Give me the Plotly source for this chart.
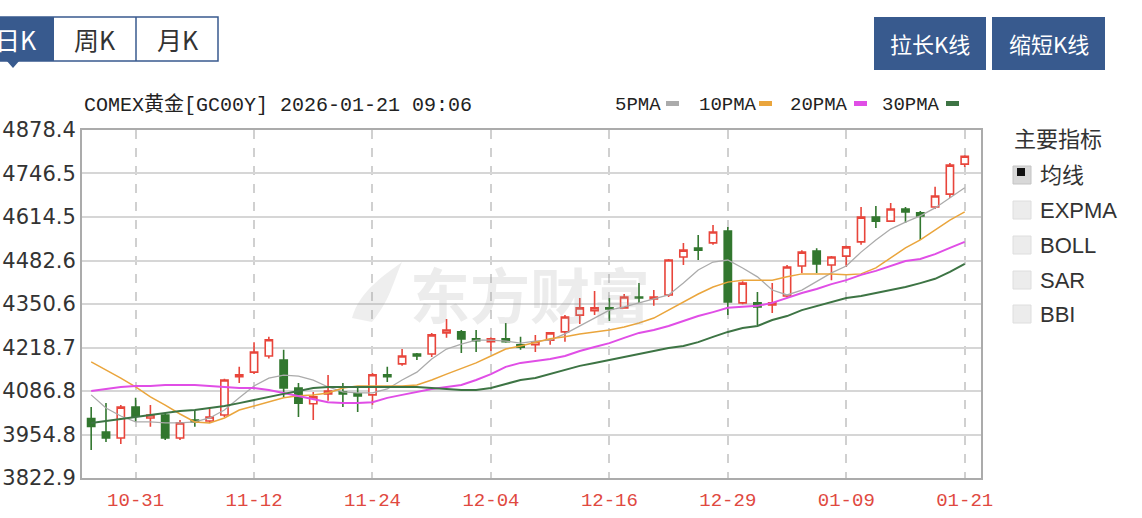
import plotly.graph_objects as go

# ---------------- data ----------------
dates = ["10-28", "10-29", "10-30", "10-31",
         "11-03", "11-04", "11-05", "11-06", "11-07", "11-10", "11-11", "11-12",
         "11-13", "11-14", "11-17", "11-18", "11-19", "11-20", "11-21", "11-24",
         "11-25", "11-26", "11-27", "11-28", "12-01", "12-02", "12-03", "12-04",
         "12-05", "12-08", "12-09", "12-10", "12-11", "12-12", "12-15", "12-16",
         "12-17", "12-18", "12-19", "12-22", "12-23", "12-24", "12-26", "12-29",
         "12-30", "12-31", "01-02", "01-05", "01-06", "01-07", "01-08", "01-09",
         "01-12", "01-13", "01-14", "01-15", "01-16", "01-19", "01-20", "01-21"]

opens = [4003, 3962, 3944, 4038, 4005, 4014, 3944, 3999, 3996, 4014,
         4130, 4144, 4193, 4181, 4096, 4048, 4078, 4084, 4078, 4075,
         4136, 4169, 4199, 4199, 4263, 4266, 4245, 4236, 4245, 4227,
         4227, 4241, 4266, 4317, 4330, 4339, 4339, 4372, 4366, 4378,
         4493, 4520, 4536, 4572, 4354, 4354, 4348, 4375, 4466, 4511,
         4469, 4496, 4539, 4614, 4602, 4639, 4627, 4645, 4684, 4775]
highs = [4038, 4050, 4044, 4066, 4044, 4020, 3999, 4029, 4038, 4124,
         4160, 4235, 4251, 4212, 4111, 4084, 4135, 4111, 4099, 4141,
         4160, 4214, 4202, 4263, 4305, 4272, 4272, 4250, 4293, 4251,
         4257, 4266, 4317, 4369, 4390, 4369, 4381, 4414, 4393, 4487,
         4536, 4560, 4590, 4584, 4420, 4387, 4414, 4469, 4514, 4520,
         4496, 4527, 4645, 4648, 4657, 4645, 4633, 4706, 4778, 4802]
lows = [3908, 3932, 3926, 3993, 3978, 3938, 3938, 3978, 3990, 4008,
        4111, 4138, 4185, 4066, 4008, 3999, 4057, 4038, 4023, 4045,
        4114, 4163, 4181, 4190, 4248, 4202, 4205, 4208, 4233, 4212,
        4205, 4227, 4236, 4290, 4317, 4299, 4336, 4354, 4345, 4372,
        4469, 4484, 4530, 4317, 4350, 4287, 4323, 4372, 4445, 4445,
        4423, 4463, 4530, 4581, 4599, 4596, 4545, 4639, 4672, 4766]
closes = [3979, 3944, 4038, 4010, 4014, 3944, 3990, 3993, 4008, 4120,
          4136, 4205, 4242, 4096, 4050, 4069, 4087, 4078, 4072, 4136,
          4130, 4193, 4193, 4257, 4272, 4245, 4239, 4245, 4236, 4220,
          4236, 4263, 4311, 4339, 4339, 4336, 4372, 4369, 4372, 4484,
          4514, 4514, 4569, 4357, 4414, 4342, 4354, 4463, 4508, 4472,
          4493, 4524, 4614, 4602, 4639, 4630, 4618, 4678, 4772, 4799]

ma5 = [4075, 4035, 4011, 3993, 3993, 3990, 3990, 3993, 4005, 4029,
       4066, 4102, 4126, 4135, 4132, 4120, 4099, 4084, 4081, 4081,
       4093, 4120, 4144, 4184, 4214, 4229, 4241, 4241, 4238, 4232,
       4238, 4241, 4260, 4284, 4308, 4332, 4342, 4354, 4366, 4378,
       4414, 4454, 4478, 4484, 4460, 4433, 4393, 4378, 4393, 4420,
       4445, 4466, 4508, 4545, 4578, 4599, 4618, 4642, 4672, 4703]
ma10 = [4175, 4151, 4126, 4099, 4069, 4044, 4017, 3993, 3990, 4005,
        4029, 4041, 4053, 4066, 4072, 4075, 4081, 4096, 4102, 4102,
        4102, 4102, 4105, 4120, 4138, 4154, 4172, 4193, 4214, 4223,
        4235, 4245, 4251, 4260, 4266, 4272, 4281, 4293, 4308, 4332,
        4357, 4381, 4402, 4417, 4423, 4423, 4423, 4433, 4442, 4442,
        4442, 4439, 4442, 4460, 4490, 4521, 4545, 4575, 4605, 4630]
ma20 = [4087, 4093, 4099, 4102, 4102, 4105, 4105, 4105, 4102, 4099,
        4096, 4096, 4090, 4081, 4072, 4063, 4053, 4050, 4050, 4053,
        4066, 4075, 4084, 4093, 4099, 4105, 4120, 4138, 4160, 4172,
        4178, 4184, 4193, 4208, 4220, 4232, 4248, 4263, 4272, 4284,
        4299, 4314, 4326, 4339, 4342, 4345, 4354, 4369, 4384, 4396,
        4411, 4423, 4439, 4451, 4466, 4481, 4487, 4502, 4521, 4539]
ma30 = [3990, 3996, 4002, 4008, 4014, 4020, 4026, 4029, 4035, 4041,
        4050, 4060, 4069, 4078, 4087, 4096, 4099, 4099, 4099, 4099,
        4099, 4099, 4099, 4096, 4093, 4090, 4090, 4096, 4108, 4120,
        4126, 4138, 4151, 4163, 4172, 4181, 4190, 4199, 4208, 4217,
        4223, 4235, 4251, 4266, 4278, 4284, 4302, 4314, 4332, 4345,
        4357, 4369, 4375, 4384, 4393, 4402, 4414, 4427, 4448, 4472]

ytick_vals = [3822.9, 3954.8, 4086.8, 4218.7, 4350.6, 4482.6, 4614.5, 4746.5, 4878.4]
xtick_labels = ["10-31", "11-12", "11-24", "12-04", "12-16", "12-29", "01-09", "01-21"]

ma_names = ["5PMA", "10PMA", "20PMA", "30PMA"]
ma_colors = ["#ababab", "#eaa53c", "#e04ee6", "#3d7444"]
ma_widths = [1.3, 1.5, 2.0, 2.0]

# ---------------- geometry helpers ----------------
W, H = 1142, 518
L, R, T, B = 82, 981, 130, 478


def px(x):
    return (x - L) / (R - L)


def py(y):
    return (B - y) / (B - T)


RED = "#e8453b"
GREEN = "#32772f"
BLUE = "#385a8e"

fig = go.Figure()

for name, vals, col, w in zip(ma_names, [ma5, ma10, ma20, ma30], ma_colors, ma_widths):
    fig.add_trace(go.Scatter(x=dates, y=vals, mode="lines", name=name,
                             line=dict(color=col, width=w), hoverinfo="skip"))

fig.add_trace(go.Candlestick(
    x=dates, open=opens, high=highs, low=lows, close=closes, name="K",
    increasing=dict(line=dict(color=RED, width=1.6), fillcolor="white"),
    decreasing=dict(line=dict(color=GREEN, width=1.6), fillcolor=GREEN),
    whiskerwidth=0,
))

shapes = []
annotations = []

# title
annotations.append(dict(x=px(82), y=py(105), xref="paper", yref="paper",
                        text="COMEX黄金[GC00Y] 2026-01-21 09:06", showarrow=False,
                        xanchor="left", yanchor="middle",
                        font=dict(family="Liberation Mono, Noto Sans CJK SC", size=20, color="#222")))

# legend-like labels
leg_text_x = [613, 697, 788, 880]
leg_sw_x = [666, 759, 854, 946]
for name, col, tx, sx in zip(ma_names, ma_colors, leg_text_x, leg_sw_x):
    annotations.append(dict(x=px(tx), y=py(105), xref="paper", yref="paper", text=name,
                            showarrow=False, xanchor="left", yanchor="middle",
                            font=dict(family="Liberation Mono", size=19, color="#222")))
    shapes.append(dict(type="rect", xref="paper", yref="paper",
                       x0=px(sx), x1=px(sx + 13), y0=py(106), y1=py(101),
                       fillcolor=col, line=dict(width=0)))

# watermark (logo + text)
shapes.append(dict(type="path", xref="paper", yref="paper",
                   path=(f"M {px(352)} {py(318)} C {px(360)} {py(290)} {px(385)} {py(275)} {px(402)} {py(262)} "
                         f"C {px(392)} {py(285)} {px(390)} {py(300)} {px(372)} {py(322)} Z"),
                   fillcolor="rgba(160,160,160,0.18)", line=dict(width=0)))
annotations.append(dict(x=px(530), y=py(292), xref="paper", yref="paper",
                        text="<b>东方财富</b>", showarrow=False,
                        font=dict(family="Noto Sans CJK SC", size=60, color="rgba(160,160,160,0.2)")))

# top-left tabs
shapes.append(dict(type="rect", xref="paper", yref="paper", x0=px(-2), x1=px(218),
                   y0=py(61), y1=py(17), fillcolor="white", line=dict(color=BLUE, width=1.5)))
shapes.append(dict(type="rect", xref="paper", yref="paper", x0=px(-2), x1=px(54),
                   y0=py(61), y1=py(17), fillcolor=BLUE, line=dict(width=0)))
shapes.append(dict(type="line", xref="paper", yref="paper", x0=px(136), x1=px(136),
                   y0=py(61), y1=py(17), line=dict(color=BLUE, width=1.5)))
shapes.append(dict(type="path", xref="paper", yref="paper",
                   path=f"M {px(6)} {py(60)} L {px(20)} {py(60)} L {px(13)} {py(68)} Z",
                   fillcolor=BLUE, line=dict(width=0)))
for txt, cx, col in [("日K", 16, "white"), ("周K", 95, "#333"), ("月K", 178, "#333")]:
    annotations.append(dict(x=px(cx), y=py(39), xref="paper", yref="paper", text=txt,
                            showarrow=False, xanchor="center", yanchor="middle",
                            font=dict(family="Noto Sans CJK SC", size=25, color=col)))

# top-right buttons
for txt, x0, x1 in [("拉长K线", 874, 986), ("缩短K线", 992, 1105)]:
    shapes.append(dict(type="rect", xref="paper", yref="paper", x0=px(x0), x1=px(x1),
                       y0=py(70), y1=py(17), fillcolor=BLUE, line=dict(width=0)))
    annotations.append(dict(x=px((x0 + x1) / 2), y=py(43), xref="paper", yref="paper", text=txt,
                            showarrow=False, xanchor="center", yanchor="middle",
                            font=dict(family="Noto Sans CJK SC", size=22, color="white")))

# right indicator panel
annotations.append(dict(x=px(1012), y=py(137), xref="paper", yref="paper", text="主要指标",
                        showarrow=False, xanchor="left", yanchor="middle",
                        font=dict(family="Noto Sans CJK SC", size=22, color="#333")))
items = ["均线", "EXPMA", "BOLL", "SAR", "BBI"]
item_y = [175, 210, 245, 280, 314]
for i, (txt, yc) in enumerate(zip(items, item_y)):
    shapes.append(dict(type="rect", xref="paper", yref="paper", x0=px(1013), x1=px(1031),
                       y0=py(yc + 9), y1=py(yc - 9),
                       fillcolor="#d8d8d8" if i == 0 else "#ececec",
                       line=dict(color="#c4c4c4" if i == 0 else "#dedede", width=1)))
    if i == 0:
        shapes.append(dict(type="rect", xref="paper", yref="paper", x0=px(1017), x1=px(1025),
                           y0=py(yc + 1), y1=py(yc - 7), fillcolor="#111", line=dict(width=0)))
    annotations.append(dict(x=px(1038), y=py(yc), xref="paper", yref="paper", text=txt,
                            showarrow=False, xanchor="left", yanchor="middle",
                            font=dict(family="Liberation Sans, Noto Sans CJK SC", size=22, color="#333")))

fig.update_layout(
    width=W, height=H, autosize=False,
    margin=dict(l=L, r=W - R, t=T, b=H - B, pad=0, autoexpand=False),
    paper_bgcolor="white", plot_bgcolor="white",
    showlegend=False,
    shapes=shapes, annotations=annotations,
    xaxis=dict(type="category", range=[-0.62, 60.1], automargin=False,
               tickvals=xtick_labels, ticktext=xtick_labels,
               showgrid=True, gridcolor="#d0d0d0", griddash="dash", gridwidth=1.5,
               showline=True, mirror=True, linecolor="#ababab", linewidth=2,
               ticks="", zeroline=False, rangeslider=dict(visible=False),
               ticklabelstandoff=3,
               tickfont=dict(family="Liberation Mono", size=19, color="#e0493f")),
    yaxis=dict(range=[ytick_vals[0], ytick_vals[-1]], automargin=False,
               tickvals=ytick_vals, ticktext=[f"{v:.1f}" for v in ytick_vals],
               showgrid=True, gridcolor="#d6d6d6", gridwidth=1.5,
               showline=True, mirror=True, linecolor="#ababab", linewidth=2,
               ticks="", zeroline=False,
               tickfont=dict(family="DejaVu Sans", size=21, color="#333")),
)

fig.write_html("out.html", config={"displayModeBar": False},
               post_script="document.body.style.margin='0';document.body.style.overflow='hidden';")
